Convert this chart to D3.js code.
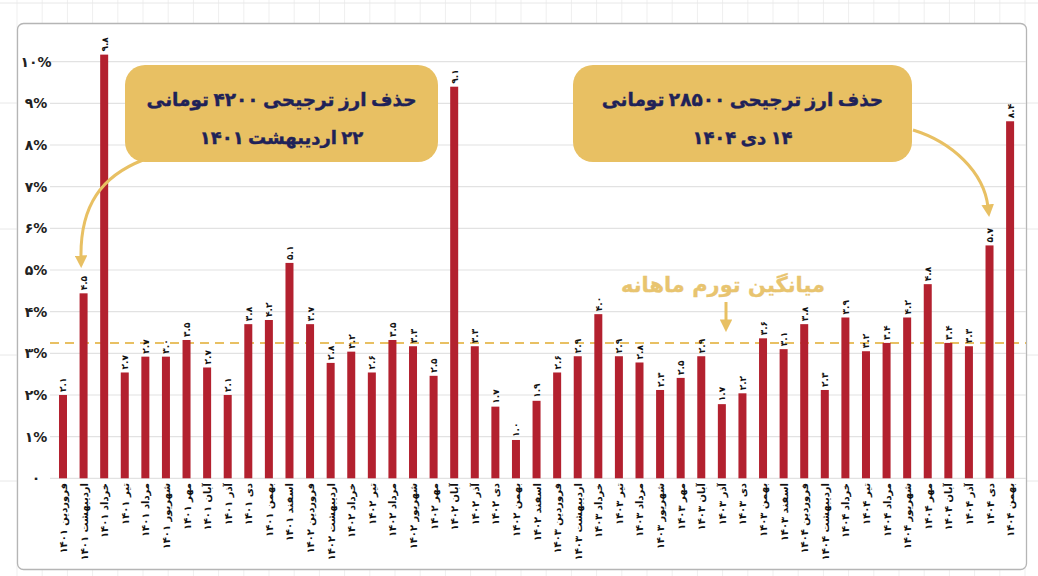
<!DOCTYPE html>
<html><head><meta charset="utf-8">
<script src="https://cdn.jsdelivr.net/npm/d3@7"></script>
<style>html,body{margin:0;padding:0;background:#fff;}svg{display:block;}</style>
</head><body>
<svg id="c" width="1038" height="576"></svg>
<script>
// ---- data ----
const monthNames = ["فروردین","اردیبهشت","خرداد","تیر","مرداد","شهریور","مهر","آبان","آذر","دی","بهمن","اسفند"];
const years = [1401, 1402, 1403, 1404];
const monthsPerYear = [12, 12, 12, 11];
// bar heights (% monthly inflation) as drawn
const values = [2.0,4.44,10.17,2.54,2.92,2.92,3.32,2.66,2.0,3.7,3.8,5.17,
                3.7,2.77,3.04,2.54,3.32,3.17,2.46,9.40,3.17,1.72,0.92,1.86,
                2.54,2.93,3.94,2.93,2.78,2.12,2.41,2.93,1.78,2.04,3.36,3.10,
                3.70,2.12,3.86,3.05,3.25,3.86,4.66,3.25,3.17,5.59,8.57];
// printed value labels
const valueLabels = [2.1,4.5,9.8,2.7,2.7,3.0,3.5,2.7,2.1,3.8,4.2,5.1,
                     3.7,2.8,3.2,2.6,3.5,3.3,2.5,9.1,3.3,1.7,1.0,1.9,
                     2.6,2.9,4.0,2.9,2.8,2.3,2.5,2.9,1.7,2.2,3.6,3.1,
                     3.8,2.3,3.9,3.2,3.4,4.2,4.8,3.4,3.3,5.7,8.4];
const yTicks = [0,1,2,3,4,5,6,7,8,9,10];
const average = 3.25;
const avgLabel = "میانگین تورم ماهانه";
const note1 = ["حذف ارز ترجیحی ۴۲۰۰ تومانی", "۲۲ اردیبهشت ۱۴۰۱"];
const note2 = ["حذف ارز ترجیحی ۲۸۵۰۰ تومانی", "۱۴ دی ۱۴۰۴"];

const fa = s => String(s).replace(/[0-9]/g, d => "۰۱۲۳۴۵۶۷۸۹"[d]);
const categories = [];
years.forEach((y, i) => { for (let m = 0; m < monthsPerYear[i]; m++) categories.push(monthNames[m] + " " + fa(y)); });

// ---- drawing ----
const svg = d3.select("#c");
const FONT = "DejaVu Sans, sans-serif";
const GOLD = "#e8c063";
const NAVY = "#1f2258";
const RED = "#b3212f";

// background faint grid outside card
const bg = svg.append("g");
d3.range(17, 1040, 25.2).forEach(x => bg.append("line").attr("x1", x).attr("x2", x).attr("y1", 0).attr("y2", 576).attr("stroke", "#efefef"));
[3, 103, 229, 355, 481].forEach(y => bg.append("line").attr("x1", 0).attr("x2", 1038).attr("y1", y).attr("y2", y).attr("stroke", "#e8e8e8"));

// card
svg.append("rect").attr("x", 17.5).attr("y", 23.5).attr("width", 1009).attr("height", 546)
  .attr("rx", 6).attr("fill", "#fff").attr("stroke", "#b5b5b5").attr("stroke-width", 1.3);

const x = d3.scalePoint().domain(categories).range([52.7, 1020.4]).padding(0.5);
const y = d3.scaleLinear().domain([0, 10]).range([478.3, 61.7]);
const barW = 8;

// gridlines
svg.append("g").selectAll("line").data(yTicks).join("line")
  .attr("x1", 50).attr("x2", 1026).attr("y1", d => y(d)).attr("y2", d => y(d))
  .attr("stroke", "#e2e2e2").attr("stroke-width", 1.2);

// y labels
svg.append("g").selectAll("text").data(yTicks).join("text")
  .attr("x", 36).attr("y", d => y(d) + 5).attr("text-anchor", "middle")
  .attr("font-family", FONT).attr("font-weight", "bold").attr("font-size", 14).attr("fill", "#222")
  .text(d => d === 0 ? fa(0) : fa(d) + "%");

// average dashed line
svg.append("line").attr("x1", 50).attr("x2", 1026).attr("y1", y(average)).attr("y2", y(average))
  .attr("stroke", GOLD).attr("stroke-width", 2).attr("stroke-dasharray", "9,6");

// bars
svg.append("g").selectAll("rect").data(values).join("rect")
  .attr("x", (d, i) => x(categories[i]) - barW / 2).attr("width", barW)
  .attr("y", d => y(d)).attr("height", d => y(0) - y(d)).attr("fill", RED);

// value labels
svg.append("g").selectAll("text").data(values).join("text")
  .attr("transform", (d, i) => `translate(${x(categories[i]) + 3.5},${y(d) - 3}) rotate(-90)`)
  .attr("text-anchor", "start").attr("font-family", FONT).attr("font-weight", "bold")
  .attr("font-size", 9).attr("fill", "#111")
  .text((d, i) => fa(valueLabels[i].toFixed(1)));

// x labels
svg.append("g").selectAll("text").data(categories).join("text")
  .attr("transform", d => `translate(${x(d) + 4},483) rotate(-90)`)
  .attr("text-anchor", "end").attr("font-family", FONT).attr("font-weight", "bold")
  .attr("font-size", 10).attr("fill", "#111")
  .text(d => d);

// arrow marker
const defs = svg.append("defs");
defs.append("marker").attr("id", "ah").attr("viewBox", "0 0 10 10").attr("refX", 2).attr("refY", 5)
  .attr("markerWidth", 4.2).attr("markerHeight", 4.2).attr("orient", "auto")
  .append("path").attr("d", "M0,0 L10,5 L0,10 Z").attr("fill", GOLD);

// annotation boxes
function note(x0, y0, w, h, lines) {
  const g = svg.append("g");
  g.append("rect").attr("x", x0).attr("y", y0).attr("width", w).attr("height", h).attr("rx", 20).attr("fill", GOLD);
  g.append("text").attr("x", x0 + w / 2).attr("y", y0 + 41).attr("text-anchor", "middle")
    .attr("font-family", FONT).attr("font-weight", "bold").attr("font-size", 18.5).attr("fill", NAVY)
    .attr("word-spacing", -2).attr("stroke", NAVY).attr("stroke-width", 0.4)
    .text("\u200F" + lines[0]);
  g.append("text").attr("x", x0 + w / 2).attr("y", y0 + 79).attr("text-anchor", "middle")
    .attr("font-family", FONT).attr("font-weight", "bold").attr("font-size", 18).attr("fill", NAVY)
    .attr("word-spacing", -2).attr("stroke", NAVY).attr("stroke-width", 0.4)
    .text("\u200F" + lines[1]);
}
note(125, 65, 313, 97, note1);
note(573, 65, 339, 97, note2);

// arrows
const arrows = ["M143,160 C102,176 80,205 81,258", "M913,130 C952,142 984,172 988,207", "M726,302 L726,322"];
svg.append("g").selectAll("path").data(arrows).join("path")
  .attr("d", d => d).attr("fill", "none").attr("stroke", GOLD).attr("stroke-width", 3)
  .attr("marker-end", "url(#ah)");

// average label
svg.append("text").attr("x", 723).attr("y", 292).attr("text-anchor", "middle")
  .attr("font-family", FONT).attr("font-weight", "bold").attr("font-size", 21).attr("fill", "#e8c46f")
  .attr("stroke", "#e8c46f").attr("stroke-width", 0.3)
  .text("\u200F" + avgLabel);
</script>
</body></html>
